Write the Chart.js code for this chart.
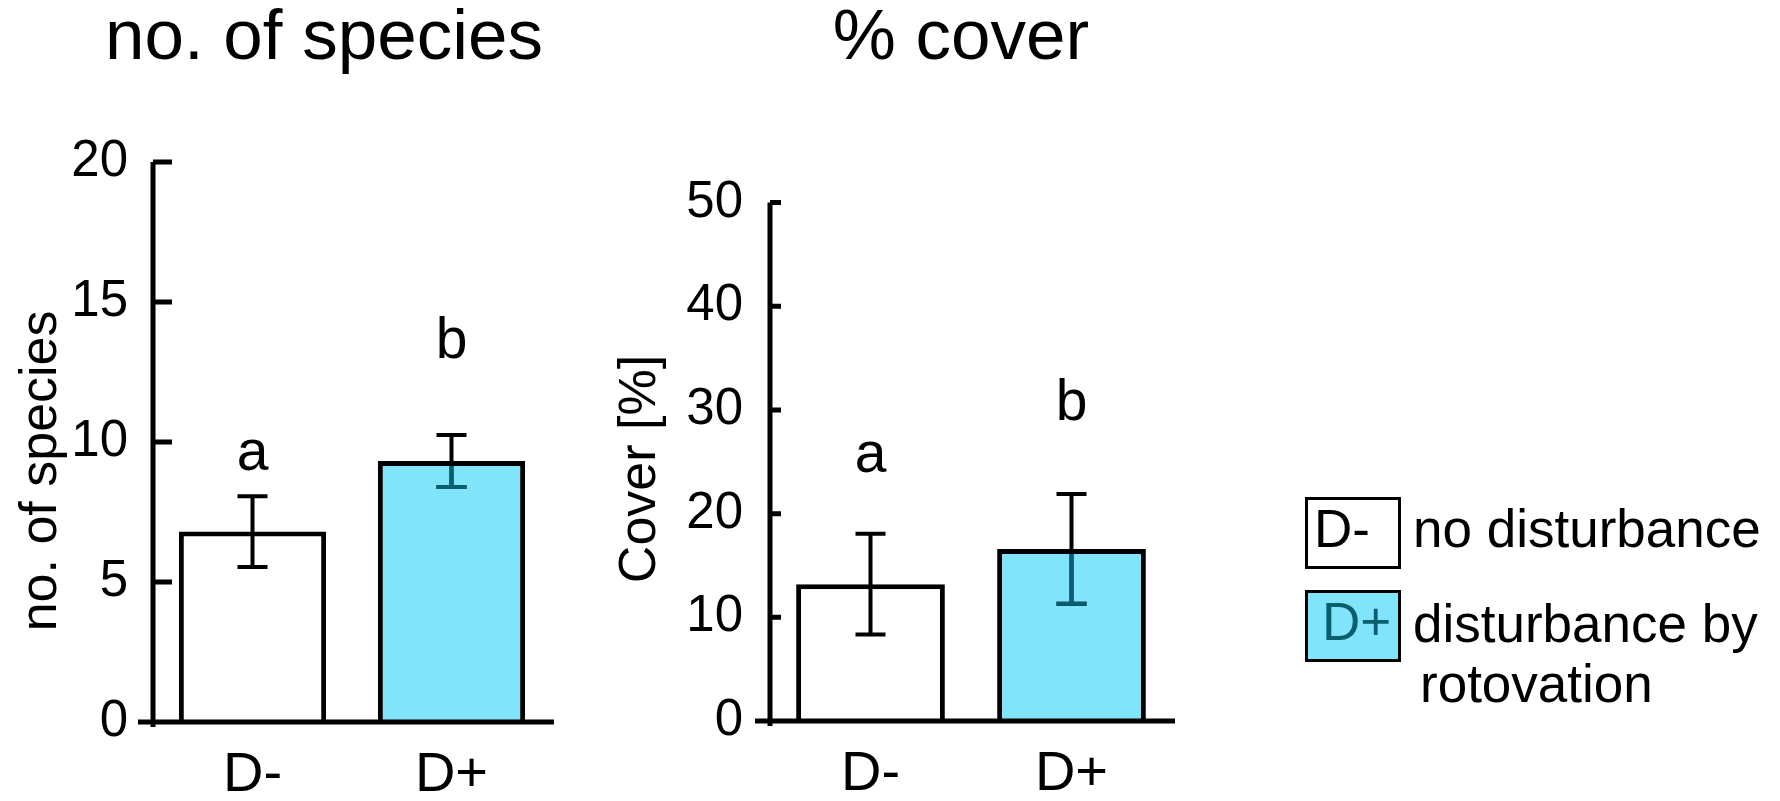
<!DOCTYPE html>
<html>
<head>
<meta charset="utf-8">
<script src="https://cdn.jsdelivr.net/npm/chart.js@4.4.1/dist/chart.umd.min.js"></script>
<style>
  html, body { margin:0; padding:0; background:#fff; width:1780px; height:801px; overflow:hidden;
    font-family:"Liberation Sans", Arial, sans-serif; color:#000; }
  canvas { position:absolute; top:0; }
  .ptitle { position:absolute; top:0; width:600px; text-align:center; font-size:71px; line-height:70px; white-space:nowrap; }
  .lgbox { position:absolute; width:96px; height:72px; border:3px solid #000; box-sizing:border-box;
    font-size:53px; line-height:58px; white-space:nowrap; }
  .lgtext { position:absolute; font-size:53px; line-height:60px; white-space:nowrap; }
</style>
</head>
<body>
<div class="ptitle" id="t1" style="left:24px;"></div>
<div class="ptitle" id="t2" style="left:661px;"></div>
<canvas id="c1" width="560" height="801" style="left:0px;"></canvas>
<canvas id="c2" width="590" height="801" style="left:600px;"></canvas>
<div id="legend"></div>
<script>
// ---- data ----
const categories = ['D-', 'D+'];
const speciesMean = [6.8, 9.32];
const speciesErr = [1.26, 0.93];
const speciesLetters = ['a', 'b'];
const speciesLetterY = [9, 13];
const speciesTicks = { min: 0, max: 20, step: 5 };

const coverMean = [13.2, 16.6];
const coverErr = [4.85, 5.3];
const coverLetters = ['a', 'b'];
const coverLetterY = [24, 29];
const coverTicks = { min: 0, max: 50, step: 10 };

const panelTitles = ['no. of species', '% cover'];
const axisTitles = ['no. of species', 'Cover [%]'];
const legendCodes = ['D-', 'D+'];
const legendLabels = [['no disturbance'], ['disturbance by', 'rotovation']];

// ---- style ----
const FONT = '"Liberation Sans", Arial, sans-serif';
const fills = ['#ffffff', '#80E4FA'];
const innerErrColor = [null, '#0B5E6E'];

document.getElementById('t1').textContent = panelTitles[0];
document.getElementById('t2').textContent = panelTitles[1];

// legend (HTML)
(function () {
  const lg = document.getElementById('legend');
  const boxTops = [497, 590];
  const boxPad = [6, 14];
  const codeColor = ['#000', '#0B5E6E'];
  const lineTops = [[498.6], [593.6, 653.6]];
  const lineLefts = [[1413], [1413, 1420]];
  legendCodes.forEach((code, i) => {
    const b = document.createElement('div');
    b.className = 'lgbox';
    b.style.left = '1305px';
    b.style.top = boxTops[i] + 'px';
    b.style.background = fills[i];
    b.style.color = codeColor[i];
    b.style.paddingLeft = boxPad[i] + 'px';
    b.textContent = code;
    lg.appendChild(b);
    legendLabels[i].forEach((txt, j) => {
      const t = document.createElement('div');
      t.className = 'lgtext';
      t.style.left = lineLefts[i][j] + 'px';
      t.style.top = lineTops[i][j] + 'px';
      t.textContent = txt;
      lg.appendChild(t);
    });
  });
})();

const bioPlugin = {
  id: 'bio',
  afterDatasetsDraw(chart, args, opts) {
    const ctx = chart.ctx;
    const y = chart.scales.y;
    const area = chart.chartArea;
    const meta = chart.getDatasetMeta(0);
    const ds = chart.data.datasets[0];
    ctx.save();
    // error bars
    meta.data.forEach((bar, i) => {
      const v = ds.data[i], e = opts.err[i];
      const cx = bar.x;
      const yt = y.getPixelForValue(v + e), yb = y.getPixelForValue(v - e);
      const draw = (color) => {
        ctx.strokeStyle = color; ctx.lineWidth = 4; ctx.lineCap = 'butt';
        ctx.beginPath();
        ctx.moveTo(cx, yt); ctx.lineTo(cx, yb);
        ctx.moveTo(cx - 15, yt); ctx.lineTo(cx + 15, yt);
        ctx.moveTo(cx - 15, yb); ctx.lineTo(cx + 15, yb);
        ctx.stroke();
      };
      draw('#000');
      if (opts.inner[i]) {
        ctx.save();
        const half = bar.width / 2;
        ctx.beginPath();
        ctx.rect(bar.x - half + 5, bar.y + 5, bar.width - 10, bar.base - bar.y - 5);
        ctx.clip();
        draw(opts.inner[i]);
        ctx.restore();
      }
    });
    // significance letters
    ctx.fillStyle = '#000';
    ctx.font = '57px ' + FONT;
    ctx.textAlign = 'center';
    ctx.textBaseline = 'alphabetic';
    meta.data.forEach((bar, i) => {
      ctx.fillText(opts.letters[i], bar.x, y.getPixelForValue(opts.letterY[i]));
    });
    // axes
    ctx.strokeStyle = '#000';
    ctx.lineWidth = 5;
    ctx.beginPath();
    ctx.moveTo(area.left, y.getPixelForValue(y.max));
    ctx.lineTo(area.left, area.bottom + 5);
    ctx.moveTo(area.left - 15, area.bottom);
    ctx.lineTo(area.right + 3, area.bottom);
    y.ticks.forEach(t => {
      const py = y.getPixelForValue(t.value);
      ctx.moveTo(area.left, py);
      ctx.lineTo(area.left + opts.tickLen, py);
    });
    ctx.stroke();
    ctx.restore();
  }
};

function makeChart(id, means, err, letters, letterY, tk, axisTitle, yWidth, padRight, padTop, xHeight, tickPad, tickLen, titlePad) {
  return new Chart(document.getElementById(id), {
    type: 'bar',
    data: {
      labels: categories,
      datasets: [{
        data: means,
        backgroundColor: fills,
        borderColor: '#000',
        borderWidth: 5,
        barPercentage: 0.74,
        categoryPercentage: 1
      }]
    },
    options: {
      responsive: false,
      animation: false,
      devicePixelRatio: 1,
      layout: { padding: { top: padTop, right: padRight, left: 0, bottom: 0 } },
      plugins: {
        legend: { display: false },
        tooltip: { enabled: false },
        bio: { err: err, letters: letters, letterY: letterY, inner: innerErrColor, tickLen: tickLen }
      },
      scales: {
        x: {
          offset: true,
          grid: { display: false, drawTicks: false },
          border: { display: false },
          ticks: { padding: 20, color: '#000', font: { size: 56, family: FONT, lineHeight: 1.2 } },
          afterFit(s) { s.height = xHeight; }
        },
        y: {
          min: tk.min, max: tk.max,
          grid: { display: false, drawTicks: false },
          border: { display: false },
          ticks: { stepSize: tk.step, padding: tickPad, color: '#000', font: { size: 51, family: FONT } },
          title: { display: true, text: axisTitle, color: '#000', font: { size: 52, family: FONT, lineHeight: 1.2 }, padding: { top: titlePad, bottom: 0 } },
          afterFit(s) { s.width = yWidth; }
        }
      }
    },
    plugins: [bioPlugin]
  });
}

makeChart('c1', speciesMean, speciesErr, speciesLetters, speciesLetterY, speciesTicks,
  axisTitles[0] + '\u00a0\u00a0\u00a0\u00a0', 153, 9, 162, 79, 25, 19, 10);
makeChart('c2', coverMean, coverErr, coverLetters, coverLetterY, coverTicks,
  axisTitles[1] + '\u00a0', 170, 18, 202.6, 80, 27, 11, 9);
</script>
</body>
</html>
